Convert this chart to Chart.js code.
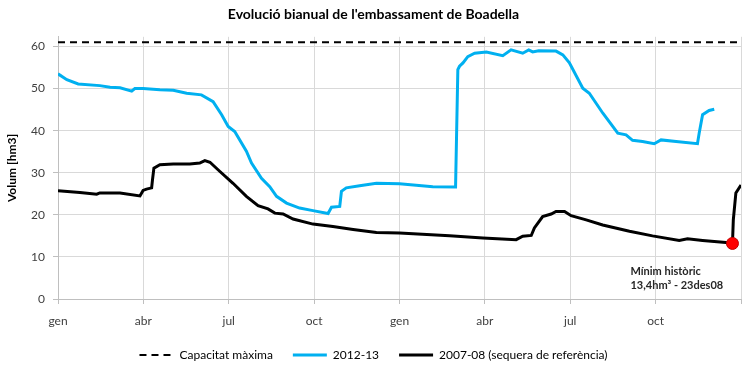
<!DOCTYPE html>
<html>
<head>
<meta charset="utf-8">
<script src="https://cdn.jsdelivr.net/npm/chart.js@4"></script>
<style>
  html, body { margin: 0; padding: 0; background: #fff; }
  #wrap { width: 751px; height: 370px; }
</style>
</head>
<body>
<div id="wrap"><canvas id="boadellaChart" width="751" height="370"></canvas></div>
<script>
// x = months since 1 January of the first year, y = hm3
const tickMonths = [0, 3, 6, 9, 12, 15, 18, 21, 24];
const tickLabels = ['gen', 'abr', 'jul', 'oct', 'gen', 'abr', 'jul', 'oct', ''];
const yTicks = [0, 10, 20, 30, 40, 50, 60];

const capacityMonths = [0, 24];
const capacityVolumes = [61, 61];

const months1213 = [0, 0.31, 0.71, 1.47, 1.83, 2.18, 2.59, 2.7, 2.99, 3.58, 4.05, 4.52, 5.04, 5.45, 5.75, 5.98,
  6.21, 6.62, 6.8, 7.15, 7.44, 7.68, 8.03, 8.49, 8.96, 9.49, 9.61, 9.9, 9.96, 10.13, 10.6, 11.19,
  12.0, 13.17, 13.97, 14.05, 14.11, 14.23, 14.4, 14.64, 15.05, 15.63, 15.92, 16.33, 16.54, 16.68,
  16.89, 17.5, 17.74, 17.97, 18.44, 18.67, 19.14, 19.67, 19.96, 20.19, 20.54, 20.95, 21.19, 21.72,
  22.47, 22.53, 22.65, 22.88, 23.06];
const volumes1213 = [53.5, 52.1, 51.1, 50.7, 50.3, 50.2, 49.4, 50.0, 50.0, 49.7, 49.6, 48.9, 48.5, 46.9, 43.8, 41.0,
  39.8, 35.1, 32.3, 28.7, 26.7, 24.4, 22.8, 21.6, 21.0, 20.3, 21.8, 22.0, 25.6, 26.4, 26.9, 27.5,
  27.4, 26.7, 26.6, 54.5, 55.3, 56.1, 57.6, 58.4, 58.7, 57.8, 59.2, 58.4, 59.2, 58.7,
  59.0, 58.9, 58.0, 56.1, 50.1, 48.9, 44.2, 39.4, 39.0, 37.7, 37.4, 36.9, 37.8, 37.4,
  36.9, 39.4, 43.8, 44.8, 45.1];

const months0708 = [0, 0.77, 1.36, 1.47, 2.18, 2.88, 2.99, 3.11, 3.29, 3.32, 3.37, 3.58, 4.05, 4.63, 4.98, 5.16,
  5.34, 5.69, 6.15, 6.62, 7.03, 7.38, 7.62, 7.91, 8.26, 8.96, 9.66, 10.37, 11.19, 12.0, 13.76,
  14.93, 16.1, 16.33, 16.63, 16.74, 17.03, 17.33, 17.5, 17.8, 18.03, 18.56, 19.14, 20.08, 20.89,
  21.83, 22.12, 22.65, 23.47, 23.7, 23.73, 23.82, 24.0];
const volumes0708 = [25.7, 25.3, 24.9, 25.2, 25.2, 24.5, 25.8, 26.1, 26.4, 28.3, 31.1, 31.9, 32.1, 32.1, 32.3, 32.9,
  32.5, 30.3, 27.5, 24.4, 22.2, 21.4, 20.4, 20.2, 19.0, 17.8, 17.2, 16.5, 15.8, 15.7, 15.0,
  14.5, 14.1, 14.9, 15.1, 16.9, 19.6, 20.2, 20.8, 20.8, 19.8, 18.8, 17.6, 16.1, 15.0,
  13.9, 14.3, 13.9, 13.4, 13.2, 18.8, 25.2, 27.1];

const minimumMonth = [23.7];
const minimumVolume = [13.2];

const toPoints = (xs, ys) => xs.map((x, i) => ({ x: x, y: ys[i] }));

const FONT = 'Lato, "Open Sans", sans-serif';
const BLUE = '#00b0f0';

// Text note under the minimum point
const minimumNote = {
  id: 'minimumNote',
  afterDatasetsDraw(chart) {
    const { ctx, scales } = chart;
    const px = scales.x.getPixelForValue(minimumMonth[0]);
    const py = scales.y.getPixelForValue(minimumVolume[0]);
    ctx.save();
    ctx.fillStyle = '#262626';
    ctx.font = 'bold 11px ' + FONT;
    ctx.textAlign = 'left';
    ctx.textBaseline = 'middle';
    const left = px - 102;
    ctx.fillText('Mínim històric', left, py + 28);
    ctx.fillText('13,4hm³ - 23des08', left, py + 42);
    ctx.restore();
  }
};

new Chart(document.getElementById('boadellaChart').getContext('2d'), {
  type: 'line',
  data: {
    datasets: [
      {
        label: 'Capacitat màxima',
        data: toPoints(capacityMonths, capacityVolumes),
        borderColor: '#000',
        borderWidth: 2,
        borderDash: [7, 5],
        pointRadius: 0
      },
      {
        label: '2012-13',
        data: toPoints(months1213, volumes1213),
        borderColor: BLUE,
        borderWidth: 3,
        pointRadius: 0,
        tension: 0
      },
      {
        label: '2007-08 (sequera de referència)',
        data: toPoints(months0708, volumes0708),
        borderColor: '#000',
        borderWidth: 3,
        pointRadius: 0,
        tension: 0
      },
      {
        label: 'minim',
        data: toPoints(minimumMonth, minimumVolume),
        showLine: false,
        pointRadius: 6,
        pointBackgroundColor: '#ff0000',
        pointBorderColor: '#c00000',
        pointBorderWidth: 1,
        order: -1
      }
    ]
  },
  options: {
    responsive: false,
    animation: false,
    layout: { padding: { left: 5, right: 9, top: 0, bottom: -1 } },
    plugins: {
      tooltip: { enabled: false },
      title: {
        display: true,
        text: "Evolució bianual de l'embassament de Boadella",
        color: '#000',
        font: { family: FONT, size: 14, weight: 'bold' },
        padding: { top: 6, bottom: 14 }
      },
      legend: {
        position: 'bottom',
        labels: {
          usePointStyle: true,
          pointStyleWidth: 34,
          padding: 20,
          color: '#000',
          font: { family: FONT, size: 12 },
          generateLabels(chart) {
            return chart.data.datasets.slice(0, 3).map((ds, i) => ({
              text: ds.label,
              datasetIndex: i,
              pointStyle: 'line',
              strokeStyle: ds.borderColor,
              fillStyle: ds.borderColor,
              lineWidth: ds.borderWidth,
              lineDash: ds.borderDash || [],
              fontColor: '#000'
            }));
          }
        }
      }
    },
    scales: {
      x: {
        type: 'linear',
        min: 0,
        max: 24,
        afterBuildTicks(scale) {
          scale.ticks = tickMonths.map(v => ({ value: v }));
        },
        afterFit(scale) { scale.height = 30; },
        ticks: {
          autoSkip: false,
          maxRotation: 0,
          padding: 10,
          color: '#404040',
          font: { family: FONT, size: 12 },
          callback: (v) => tickLabels[tickMonths.indexOf(v)]
        },
        grid: { color: '#d9d9d9', tickLength: 5, tickColor: '#bfbfbf' },
        border: { color: '#bfbfbf' }
      },
      y: {
        min: 0,
        max: 62.3,
        afterBuildTicks(scale) {
          scale.ticks = yTicks.map(v => ({ value: v }));
        },
        afterFit(scale) { scale.width = 53; },
        ticks: {
          padding: 8,
          color: '#404040',
          font: { family: FONT, size: 12 }
        },
        grid: { color: '#d9d9d9', tickLength: 5, tickColor: '#bfbfbf' },
        border: { color: '#bfbfbf' },
        title: {
          display: true,
          text: 'Volum [hm3]',
          color: '#000',
          font: { family: FONT, size: 12, weight: 'bold' },
          padding: 0
        }
      }
    }
  },
  plugins: [minimumNote]
});
</script>
</body>
</html>
